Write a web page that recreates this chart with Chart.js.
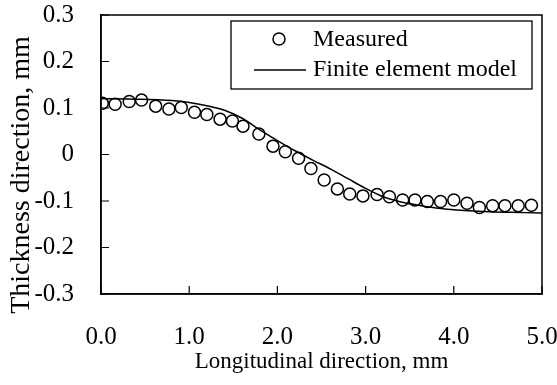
<!DOCTYPE html>
<html>
<head>
<meta charset="utf-8">
<script src="https://cdn.jsdelivr.net/npm/chart.js@4/dist/chart.umd.min.js"></script>
<style>
	html, body { margin: 0; padding: 0; background: #fff; }
	canvas { display: block; }
</style>
</head>
<body>
<canvas id="chart" width="557" height="385"></canvas>
<script>
'use strict';

// measured profile (circles)
var measuredX = [0.015, 0.16, 0.32, 0.46, 0.62, 0.77, 0.91, 1.06, 1.20, 1.35, 1.49, 1.61,
	1.79, 1.95, 2.09, 2.24, 2.38, 2.53, 2.68, 2.82, 2.97, 3.13, 3.27, 3.42, 3.56, 3.70,
	3.85, 4.00, 4.15, 4.29, 4.44, 4.58, 4.73, 4.88]
var measuredY = [0.110, 0.108, 0.114, 0.117, 0.104, 0.098, 0.101, 0.091, 0.086, 0.076, 0.072, 0.061,
	0.044, 0.018, 0.006, -0.008, -0.030, -0.055, -0.074, -0.085, -0.089, -0.086, -0.091, -0.098, -0.098, -0.101,
	-0.101, -0.098, -0.105, -0.114, -0.110, -0.110, -0.110, -0.109]

// finite element model (solid line)
var modelX = [0, 0.4, 0.8, 1.0, 1.2, 1.4, 1.6, 1.8, 2.0, 2.2, 2.4, 2.6, 2.8, 3.0, 3.2, 3.4, 3.6, 3.8, 4.0, 4.4, 4.8, 5.0]
var modelY = [0.120, 0.119, 0.116, 0.112, 0.105, 0.095, 0.078, 0.053, 0.030, 0.008, -0.012, -0.031, -0.052, -0.073,
	-0.091, -0.102, -0.109, -0.115, -0.119, -0.123, -0.125, -0.126]

var seriesLabels = ['Measured', 'Finite element model']
var xTicks = [0, 1, 2, 3, 4, 5]
var xTickLabels = ['0.0', '1.0', '2.0', '3.0', '4.0', '5.0']
var yTicks = [0.3, 0.2, 0.1, 0, -0.1, -0.2, -0.3]
var yTickLabels = ['0.3', '0.2', '0.1', '0', '-0.1', '-0.2', '-0.3']
var xTitle = 'Longitudinal direction, mm'
var yTitle = 'Thickness direction, mm'

var SERIF = '"Liberation Serif", "Times New Roman", serif'

function pairs(xs, ys) {
	return xs.map(function (x, i) { return { x: x, y: ys[i] } })
}

// no label overhang padding, the layout padding alone places the plot
function noOverhang(scale) {
	scale.paddingTop = 0
	scale.paddingBottom = 0
	scale.paddingLeft = 0
	scale.paddingRight = 0
}

// frame + inward tick marks
var framePlugin = {
	id: 'frame',
	afterDraw: function (chart) {
		var ctx = chart.ctx, a = chart.chartArea
		var sx = chart.scales.x, sy = chart.scales.y
		ctx.save()
		ctx.strokeStyle = '#000'
		ctx.lineWidth = 1.5
		ctx.strokeRect(a.left, a.top, a.right - a.left, a.bottom - a.top)
		ctx.lineWidth = 1.2
		ctx.beginPath()
		xTicks.forEach(function (v) {
			var px = sx.getPixelForValue(v)
			ctx.moveTo(px, a.bottom)
			ctx.lineTo(px, a.bottom - 8)
		})
		yTicks.forEach(function (v) {
			var py = sy.getPixelForValue(v)
			ctx.moveTo(a.left, py)
			ctx.lineTo(a.left + 8, py)
		})
		ctx.stroke()

		// y axis title
		ctx.fillStyle = '#000'
		ctx.font = '28px ' + SERIF
		ctx.textAlign = 'center'
		ctx.textBaseline = 'middle'
		ctx.translate(22, 175)
		ctx.rotate(-Math.PI / 2)
		ctx.fillText(yTitle, 0, 0)
		ctx.restore()
	}
}

// boxed legend inside the plot
var legendPlugin = {
	id: 'boxLegend',
	afterDraw: function (chart) {
		var ctx = chart.ctx
		var ds = chart.data.datasets
		ctx.save()
		ctx.strokeStyle = '#000'
		ctx.lineWidth = 1.3
		ctx.strokeRect(231, 21, 301, 68)

		ctx.fillStyle = '#fff'
		ctx.lineWidth = ds[0].borderWidth
		ctx.beginPath()
		ctx.arc(279, 39, ds[0].pointRadius, 0, Math.PI * 2)
		ctx.fill()
		ctx.stroke()

		ctx.lineWidth = ds[1].borderWidth
		ctx.beginPath()
		ctx.moveTo(254, 70)
		ctx.lineTo(306, 70)
		ctx.stroke()

		ctx.fillStyle = '#000'
		ctx.font = '24px ' + SERIF
		ctx.textAlign = 'left'
		ctx.textBaseline = 'middle'
		ctx.fillText(ds[0].label, 313, 40)
		ctx.fillText(ds[1].label, 313, 70)
		ctx.restore()
	}
}

new Chart(document.getElementById('chart'), {
	type: 'scatter',
	data: {
		datasets: [{
			label: seriesLabels[0],
			data: pairs(measuredX, measuredY),
			showLine: false,
			pointStyle: 'circle',
			pointRadius: 6,
			pointBackgroundColor: 'rgba(255,255,255,0)',
			pointBorderColor: '#000',
			borderColor: '#000',
			borderWidth: 1.5,
			pointBorderWidth: 1.5,
			order: 1
		}, {
			label: seriesLabels[1],
			data: pairs(modelX, modelY),
			showLine: true,
			borderColor: '#000',
			borderWidth: 1.5,
			pointRadius: 0,
			cubicInterpolationMode: 'monotone',
			fill: false,
			order: 2
		}]
	},
	options: {
		responsive: false,
		animation: false,
		events: [],
		layout: { padding: { top: 15, right: 15, left: 0, bottom: 0 } },
		plugins: {
			legend: { display: false },
			tooltip: { enabled: false }
		},
		scales: {
			x: {
				type: 'linear',
				min: 0,
				max: 5,
				afterBuildTicks: function (scale) {
					scale.ticks = xTicks.map(function (v) { return { value: v } })
				},
				afterFit: function (scale) {
					scale.height = 91
					noOverhang(scale)
				},
				ticks: {
					color: '#000',
					padding: 20,
					maxRotation: 0,
					font: { family: SERIF, size: 25 },
					callback: function (v) { return xTickLabels[xTicks.indexOf(v)] }
				},
				grid: { display: false },
				border: { display: true, color: '#000', width: 1.5 },
				title: {
					display: true,
					text: xTitle,
					color: '#000',
					font: { family: SERIF, size: 23 },
					padding: { top: 0, bottom: 9 }
				}
			},
			y: {
				type: 'linear',
				min: -0.3,
				max: 0.3,
				afterBuildTicks: function (scale) {
					scale.ticks = yTicks.map(function (v) { return { value: v } })
				},
				afterFit: function (scale) {
					scale.width = 101
					noOverhang(scale)
				},
				ticks: {
					color: '#000',
					padding: 19,
					font: { family: SERIF, size: 25 },
					callback: function (v) {
						var i = yTicks.findIndex(function (t) { return Math.abs(t - v) < 1e-9 })
						return yTickLabels[i]
					}
				},
				grid: { display: false },
				border: { display: true, color: '#000', width: 1.5 }
			}
		}
	},
	plugins: [framePlugin, legendPlugin]
})
</script>
</body>
</html>
